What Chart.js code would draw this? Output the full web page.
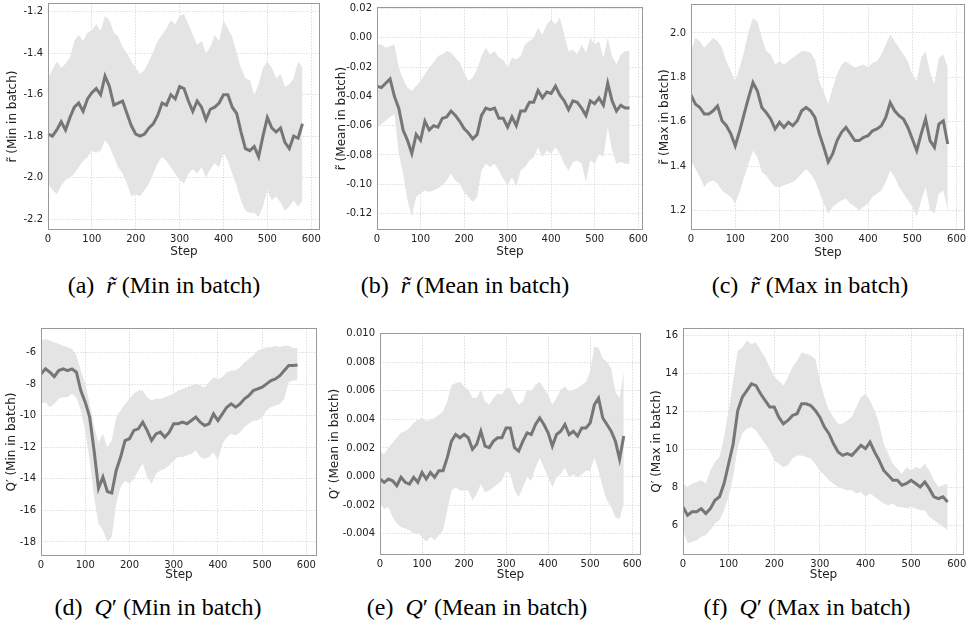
<!DOCTYPE html>
<html>
<head>
<meta charset="utf-8">
<script src="https://cdn.jsdelivr.net/npm/chart.js@4.4.1/dist/chart.umd.min.js"></script>
<style>
  body { margin: 0; width: 966px; height: 621px; overflow: hidden; background: #fff; position: relative; }
  canvas { position: absolute; }
  .cap { position: absolute; font-family: "Liberation Serif", "Times New Roman", serif; font-size: 24px; color: #000; white-space: nowrap; transform: translate(-50%, -50%); }
</style>
</head>
<body>
<div class="cap" style="left:164px; top:285px">(a)&nbsp; <i>r&#771;</i> (Min in batch)</div>
<div class="cap" style="left:465px; top:285px">(b)&nbsp; <i>r&#771;</i> (Mean in batch)</div>
<div class="cap" style="left:810px; top:285px">(c)&nbsp; <i>r&#771;</i> (Max in batch)</div>
<div class="cap" style="left:158px; top:607px">(d)&nbsp; <i>Q</i>&#8242; (Min in batch)</div>
<div class="cap" style="left:477px; top:607px">(e)&nbsp; <i>Q</i>&#8242; (Mean in batch)</div>
<div class="cap" style="left:807px; top:607px">(f)&nbsp; <i>Q</i>&#8242; (Max in batch)</div>
<script>
  const steps = [0,10,20,30,40,50,60,70,80,90,100,110,120,130,140,150,160,170,180,190,200,210,220,230,240,250,260,270,280,290,300,310,320,330,340,350,360,370,380,390,400,410,420,430,440,450,460,470,480,490,500,510,520,530,540,550,560,570,580];
  const stepTicks = [0,100,200,300,400,500,600];

  // (a) r~ min in batch
  const rMinMean = [-1.79,-1.80,-1.77,-1.73,-1.77,-1.71,-1.66,-1.64,-1.68,-1.62,-1.59,-1.57,-1.60,-1.51,-1.56,-1.65,-1.64,-1.63,-1.69,-1.75,-1.79,-1.80,-1.79,-1.76,-1.74,-1.70,-1.64,-1.65,-1.60,-1.62,-1.56,-1.57,-1.63,-1.68,-1.63,-1.66,-1.72,-1.67,-1.66,-1.64,-1.60,-1.60,-1.66,-1.69,-1.78,-1.86,-1.87,-1.85,-1.90,-1.80,-1.71,-1.76,-1.78,-1.76,-1.83,-1.86,-1.80,-1.81,-1.74];
  const rMinHi = [-1.52,-1.48,-1.44,-1.47,-1.45,-1.42,-1.34,-1.31,-1.34,-1.30,-1.29,-1.26,-1.29,-1.22,-1.24,-1.30,-1.32,-1.37,-1.40,-1.44,-1.47,-1.50,-1.48,-1.44,-1.39,-1.34,-1.31,-1.28,-1.24,-1.26,-1.22,-1.21,-1.26,-1.31,-1.36,-1.34,-1.40,-1.37,-1.31,-1.34,-1.24,-1.28,-1.32,-1.40,-1.47,-1.52,-1.53,-1.60,-1.55,-1.47,-1.44,-1.47,-1.52,-1.50,-1.56,-1.55,-1.52,-1.44,-1.47];
  const rMinLo = [-2.03,-2.06,-2.08,-2.04,-2.01,-2.00,-1.98,-1.95,-1.92,-1.90,-1.87,-1.88,-1.87,-1.82,-1.85,-1.90,-1.95,-1.98,-2.03,-2.09,-2.08,-2.09,-2.06,-2.03,-1.98,-1.93,-1.90,-1.92,-1.95,-1.98,-2.01,-2.03,-1.98,-1.96,-1.98,-1.95,-2.00,-1.96,-1.93,-1.95,-1.88,-1.92,-1.98,-2.04,-2.11,-2.16,-2.17,-2.17,-2.19,-2.14,-2.06,-2.11,-2.09,-2.12,-2.16,-2.14,-2.11,-2.14,-2.11];
  const rMinTicks = [-2.2,-2.0,-1.8,-1.6,-1.4,-1.2];

  // (b) r~ mean in batch
  const rMeanMean = [-0.033,-0.034,-0.031,-0.028,-0.040,-0.048,-0.063,-0.070,-0.079,-0.066,-0.070,-0.057,-0.063,-0.060,-0.061,-0.055,-0.054,-0.050,-0.053,-0.057,-0.062,-0.065,-0.069,-0.066,-0.053,-0.048,-0.049,-0.048,-0.055,-0.055,-0.061,-0.054,-0.060,-0.050,-0.050,-0.044,-0.044,-0.036,-0.041,-0.037,-0.038,-0.033,-0.039,-0.043,-0.049,-0.043,-0.044,-0.048,-0.053,-0.043,-0.045,-0.041,-0.046,-0.031,-0.043,-0.050,-0.046,-0.048,-0.048];
  const rMeanHi = [-0.0045,-0.0045,-0.0067,-0.0056,-0.0045,-0.0203,-0.0283,-0.0339,-0.0362,-0.0328,-0.0294,-0.0249,-0.0203,-0.0169,-0.0124,-0.0113,-0.0090,-0.0101,-0.0135,-0.0169,-0.0237,-0.0294,-0.0271,-0.0215,-0.0124,-0.0067,-0.0113,-0.0090,-0.0135,-0.0147,-0.0203,-0.0135,-0.0147,-0.0124,-0.0045,-0.0022,0.0001,0.0069,0.0023,0.0091,0.0125,0.0091,0.0137,0.0023,-0.0090,-0.0079,-0.0113,-0.0045,-0.0101,0.0001,-0.0045,-0.0022,-0.0135,0.0001,-0.0124,-0.0181,-0.0113,-0.0090,-0.0090];
  const rMeanLo = [-0.0611,-0.0588,-0.0566,-0.0543,-0.0520,-0.0792,-0.0928,-0.1109,-0.1220,-0.1087,-0.1064,-0.1041,-0.1053,-0.1041,-0.1030,-0.1008,-0.0974,-0.0928,-0.0974,-0.0996,-0.1053,-0.1087,-0.1121,-0.1087,-0.0906,-0.0860,-0.0883,-0.0860,-0.0906,-0.0962,-0.1008,-0.0951,-0.1019,-0.0906,-0.0883,-0.0838,-0.0815,-0.0747,-0.0815,-0.0770,-0.0792,-0.0747,-0.0792,-0.0860,-0.0906,-0.0849,-0.0838,-0.0860,-0.0985,-0.0838,-0.0860,-0.0792,-0.0815,-0.0611,-0.0770,-0.0860,-0.0849,-0.0860,-0.0860];
  const rMeanTicks = [-0.12,-0.10,-0.08,-0.06,-0.04,-0.02,0.00,0.02];

  // (c) r~ max in batch
  const rMaxMean = [1.72,1.68,1.665,1.635,1.635,1.65,1.672,1.605,1.583,1.546,1.493,1.56,1.635,1.709,1.777,1.739,1.665,1.642,1.613,1.568,1.598,1.575,1.598,1.583,1.605,1.65,1.665,1.65,1.62,1.546,1.486,1.42,1.456,1.516,1.553,1.575,1.546,1.516,1.516,1.531,1.538,1.56,1.568,1.583,1.62,1.687,1.65,1.628,1.613,1.575,1.523,1.471,1.546,1.613,1.516,1.486,1.59,1.605,1.501];
  const rMaxHi = [1.918,1.978,1.963,1.933,1.955,1.978,1.963,1.933,1.873,1.829,1.784,1.844,1.918,2.007,2.067,2.052,1.978,1.918,1.903,1.858,1.873,1.858,1.873,1.888,1.903,1.918,1.918,1.911,1.881,1.784,1.732,1.68,1.754,1.814,1.858,1.873,1.858,1.844,1.851,1.858,1.844,1.866,1.873,1.903,1.948,1.993,1.963,1.933,1.903,1.873,1.814,1.784,1.888,1.918,1.821,1.769,1.888,1.903,1.844];
  const rMaxLo = [1.426,1.389,1.352,1.307,1.33,1.337,1.322,1.292,1.277,1.263,1.233,1.285,1.352,1.411,1.471,1.441,1.374,1.359,1.33,1.307,1.307,1.315,1.322,1.33,1.345,1.367,1.389,1.367,1.337,1.285,1.233,1.188,1.218,1.233,1.248,1.255,1.233,1.218,1.203,1.218,1.233,1.263,1.277,1.292,1.33,1.382,1.352,1.307,1.277,1.248,1.218,1.173,1.248,1.307,1.203,1.188,1.277,1.292,1.203];
  const rMaxTicks = [1.2,1.4,1.6,1.8,2.0];

  // (d) Q' min in batch
  const qMinMean = [-7.35,-7.03,-7.24,-7.52,-7.14,-7.03,-7.14,-7.03,-7.24,-8.40,-9.14,-10.09,-12.20,-14.60,-13.89,-14.80,-14.90,-13.47,-12.62,-11.57,-11.46,-10.93,-10.83,-10.41,-10.93,-11.57,-11.15,-11.04,-11.36,-11.04,-10.51,-10.51,-10.41,-10.51,-10.30,-10.09,-10.41,-10.62,-10.51,-9.88,-10.30,-9.88,-9.46,-9.25,-9.46,-9.25,-8.93,-8.72,-8.40,-8.30,-8.19,-7.98,-7.77,-7.67,-7.46,-7.14,-6.82,-6.82,-6.78];
  const qMinHi = [-5.24,-5.14,-5.24,-5.35,-5.45,-5.56,-5.66,-5.77,-6.19,-7.14,-7.98,-9.25,-10.72,-11.67,-11.15,-11.99,-11.57,-10.09,-9.67,-9.25,-8.93,-8.61,-8.40,-8.40,-8.83,-9.04,-8.93,-8.93,-8.83,-8.72,-8.61,-8.40,-8.30,-8.19,-8.09,-7.98,-8.09,-8.19,-7.88,-7.56,-7.67,-7.56,-7.24,-7.14,-7.14,-6.93,-6.61,-6.40,-6.19,-5.87,-5.77,-5.66,-5.66,-5.56,-5.66,-5.56,-5.56,-5.70,-5.70];
  const qMinLo = [-9.25,-9.14,-9.46,-9.25,-8.93,-8.83,-8.83,-8.61,-8.83,-9.67,-10.93,-12.83,-15.15,-16.84,-17.26,-18.00,-17.68,-15.57,-14.52,-14.10,-14.31,-13.99,-13.47,-13.04,-13.89,-14.31,-13.68,-13.47,-13.36,-13.15,-12.83,-12.62,-12.62,-12.52,-12.41,-12.20,-12.62,-12.73,-12.62,-12.31,-12.83,-11.78,-11.36,-11.15,-11.25,-11.04,-10.72,-10.51,-10.30,-10.30,-10.09,-9.67,-9.46,-9.35,-9.25,-8.93,-7.88,-7.77,-7.77];
  const qMinTicks = [-18,-16,-14,-12,-10,-8,-6];

  // (e) Q' mean in batch
  const qMeanMean = [-0.00018,-0.00041,-0.00018,-0.00030,-0.00065,-0.00006,-0.00041,-0.00053,-0.00006,-0.00041,0.00028,-0.00018,0.00028,-0.00006,0.00040,0.00040,0.00132,0.00248,0.00294,0.00271,0.00294,0.00271,0.00190,0.00225,0.00317,0.00213,0.00202,0.00248,0.00271,0.00271,0.00340,0.00340,0.00202,0.00178,0.00248,0.00306,0.00294,0.00364,0.00410,0.00364,0.00306,0.00213,0.00294,0.00317,0.00364,0.00294,0.00317,0.00283,0.00340,0.00340,0.00375,0.00502,0.00549,0.00410,0.00364,0.00317,0.00248,0.00121,0.00283];
  const qMeanHi = [0.00178,0.00155,0.00202,0.00236,0.00271,0.00306,0.00317,0.00340,0.00375,0.00398,0.00410,0.00387,0.00398,0.00410,0.00433,0.00456,0.00526,0.00641,0.00653,0.00664,0.00630,0.00607,0.00549,0.00549,0.00607,0.00526,0.00502,0.00549,0.00583,0.00572,0.00618,0.00618,0.00549,0.00502,0.00526,0.00607,0.00595,0.00641,0.00664,0.00618,0.00572,0.00502,0.00549,0.00607,0.00630,0.00595,0.00607,0.00618,0.00641,0.00664,0.00734,0.00910,0.00900,0.00826,0.00803,0.00757,0.00595,0.00549,0.00734];
  const qMeanLo = [-0.00192,-0.00227,-0.00215,-0.00284,-0.00331,-0.00354,-0.00365,-0.00377,-0.00400,-0.00400,-0.00423,-0.00458,-0.00423,-0.00446,-0.00412,-0.00377,-0.00238,-0.00099,-0.00076,-0.00099,-0.00099,-0.00099,-0.00169,-0.00122,-0.00053,-0.00111,-0.00099,-0.00076,-0.00053,-0.00030,0.00040,0.00016,-0.00099,-0.00146,-0.00076,-0.00006,-0.00030,0.00063,0.00132,0.00063,-0.00006,-0.00076,-0.00006,0.00016,0.00063,-0.00006,0.00016,-0.00006,0.00016,0.00040,0.00040,0.00132,0.00040,-0.00076,-0.00169,-0.00215,-0.00284,-0.00300,-0.00180];
  const qMeanTicks = [-0.004,-0.002,0.000,0.002,0.004,0.006,0.008,0.010];

  // (f) Q' max in batch
  const qMaxMean = [6.96,6.52,6.70,6.70,6.87,6.61,6.87,7.31,7.49,8.19,9.23,10.28,12.03,12.73,13.08,13.43,13.34,12.91,12.56,12.21,12.21,11.68,11.33,11.51,11.77,11.86,12.38,12.38,12.29,12.03,11.68,11.16,10.81,10.28,9.85,9.67,9.76,9.67,9.93,10.20,10.02,10.37,9.85,9.41,8.88,8.62,8.36,8.36,8.10,8.19,8.36,8.19,8.01,8.27,7.92,7.49,7.40,7.49,7.22];
  const qMaxHi = [8.19,8.01,8.19,8.27,8.36,8.19,8.88,9.32,9.58,10.63,12.03,13.60,15.18,15.35,15.70,15.53,15.62,15.18,14.83,14.30,13.78,13.60,13.34,13.78,14.30,14.65,15.09,15.00,14.92,14.74,13.60,12.73,12.03,11.68,11.33,11.33,11.51,11.68,12.21,12.73,12.91,12.56,12.03,11.33,10.28,9.76,9.23,8.97,8.71,9.06,8.88,9.06,8.97,9.23,8.88,8.36,8.01,8.10,8.19];
  const qMaxLo = [5.74,5.04,5.13,5.21,5.39,5.48,5.74,6.09,6.26,6.79,7.49,8.54,10.11,10.81,11.07,11.16,10.98,10.63,10.28,9.93,9.41,9.23,9.06,9.15,9.50,9.67,9.67,9.58,9.50,9.23,8.88,8.62,8.36,8.19,8.01,7.92,7.84,7.84,7.66,7.75,7.49,7.66,7.49,7.31,7.14,7.05,7.14,6.96,6.96,6.87,6.96,6.87,6.79,6.79,6.44,6.26,6.09,5.91,5.74];
  const qMaxTicks = [6,8,10,12,14,16];

  // plot boxes (page px): L/T/R/B of the axes, where the y title and "Step" sit
  const panels = [
    { mean: rMinMean, hi: rMinHi, lo: rMinLo, ticks: rMinTicks, dec: 1, yTitle: 'r\u0303 (Min in batch)', yMin: -2.253, yMax: -1.157, xMax: 620, L: 48, T: 2, R: 320, B: 230, titleX: 13, stepY: 252 },
    { mean: rMeanMean, hi: rMeanHi, lo: rMeanLo, ticks: rMeanTicks, dec: 2, yTitle: 'r\u0303 (Mean in batch)', yMin: -0.1313, yMax: 0.0211, xMax: 611, L: 377, T: 6, R: 643, B: 230, titleX: 342, stepY: 252 },
    { mean: rMaxMean, hi: rMaxHi, lo: rMaxLo, ticks: rMaxTicks, dec: 1, yTitle: 'r\u0303 (Max in batch)', yMin: 1.114, yMax: 2.13, xMax: 619, L: 691, T: 3, R: 965, B: 230, titleX: 665, stepY: 253 },
    { mean: qMinMean, hi: qMinHi, lo: qMinLo, ticks: qMinTicks, dec: 0, yTitle: 'Q\u2032 (Min in batch)', yMin: -18.89, yMax: -4.44, xMax: 624, L: 41, T: 327, R: 317, B: 556, titleX: 12, stepY: 575 },
    { mean: qMeanMean, hi: qMeanHi, lo: qMeanLo, ticks: qMeanTicks, dec: 3, yTitle: 'Q\u2032 (Mean in batch)', yMin: -0.0055, yMax: 0.01005, xMax: 621, L: 380, T: 332, R: 641, B: 555, titleX: 335, stepY: 575 },
    { mean: qMaxMean, hi: qMaxHi, lo: qMaxLo, ticks: qMaxTicks, dec: 0, yTitle: 'Q\u2032 (Max in batch)', yMin: 4.43, yMax: 16.37, xMax: 616, L: 683, T: 327, R: 964, B: 555, titleX: 657, stepY: 575 }
  ];

  const tickFont = { family: 'DejaVu Sans', size: 10 };
  const titleFont = { family: 'DejaVu Sans', size: 12, lineHeight: 1.2 };

  // matplotlib style box round the axes
  const frame = {
    id: 'frame',
    afterDraw(c) {
      const { ctx, chartArea: a } = c;
      ctx.save();
      ctx.strokeStyle = '#9a9a9a';
      ctx.lineWidth = 1;
      ctx.strokeRect(Math.round(a.left) + 0.5, Math.round(a.top) + 0.5, Math.round(a.right - a.left) - 1, Math.round(a.bottom - a.top) - 1);
      ctx.restore();
    }
  };

  function pts(arr) {
    return steps.map((s, i) => ({ x: s, y: arr[i] }));
  }

  panels.forEach(p => {
    const cl = Math.round(p.titleX - 7);
    const ct = p.T - 10;
    const yW = p.L - cl;
    const xH = p.stepY + 7 - p.B;
    const cv = document.createElement('canvas');
    cv.width = p.R + 10 - cl;
    cv.height = p.B + xH - ct;
    cv.style.left = cl + 'px';
    cv.style.top = ct + 'px';
    document.body.appendChild(cv);

    new Chart(cv, {
      type: 'line',
      data: {
        datasets: [
          { data: pts(p.mean), borderColor: '#767676', borderWidth: 3, pointRadius: 0, fill: false, tension: 0 },
          { data: pts(p.hi), borderColor: 'rgba(0,0,0,0)', borderWidth: 0, backgroundColor: '#e4e4e4', pointRadius: 0, fill: '+1', tension: 0 },
          { data: pts(p.lo), borderColor: 'rgba(0,0,0,0)', borderWidth: 0, pointRadius: 0, fill: false, tension: 0 }
        ]
      },
      options: {
        responsive: false,
        animation: false,
        devicePixelRatio: 1,
        layout: { padding: { top: 10, right: 10, left: 0, bottom: 0 } },
        plugins: { legend: { display: false }, tooltip: { enabled: false } },
        scales: {
          x: {
            type: 'linear', min: 0, max: p.xMax,
            afterBuildTicks: s => { s.ticks = stepTicks.map(v => ({ value: v })); },
            afterFit: s => { s.height = xH; },
            grid: { color: '#d4d4d4', lineWidth: 0.8, drawTicks: false },
            border: { display: false, dash: [1.5, 1.5] },
            ticks: { font: tickFont, color: '#222', padding: 3, autoSkip: false, maxRotation: 0, callback: v => String(v) },
            title: { display: true, text: 'Step', font: titleFont, color: '#222', padding: 0 }
          },
          y: {
            min: p.yMin, max: p.yMax,
            afterBuildTicks: s => { s.ticks = p.ticks.map(v => ({ value: v })); },
            afterFit: s => { s.width = yW; },
            grid: { color: '#d4d4d4', lineWidth: 0.8, drawTicks: false },
            border: { display: false, dash: [1.5, 1.5] },
            ticks: { font: tickFont, color: '#222', padding: 5, callback: v => v.toFixed(p.dec) },
            title: { display: true, text: p.yTitle, font: titleFont, color: '#222', padding: 0 }
          }
        }
      },
      plugins: [frame]
    });
  });
</script>
</body>
</html>
